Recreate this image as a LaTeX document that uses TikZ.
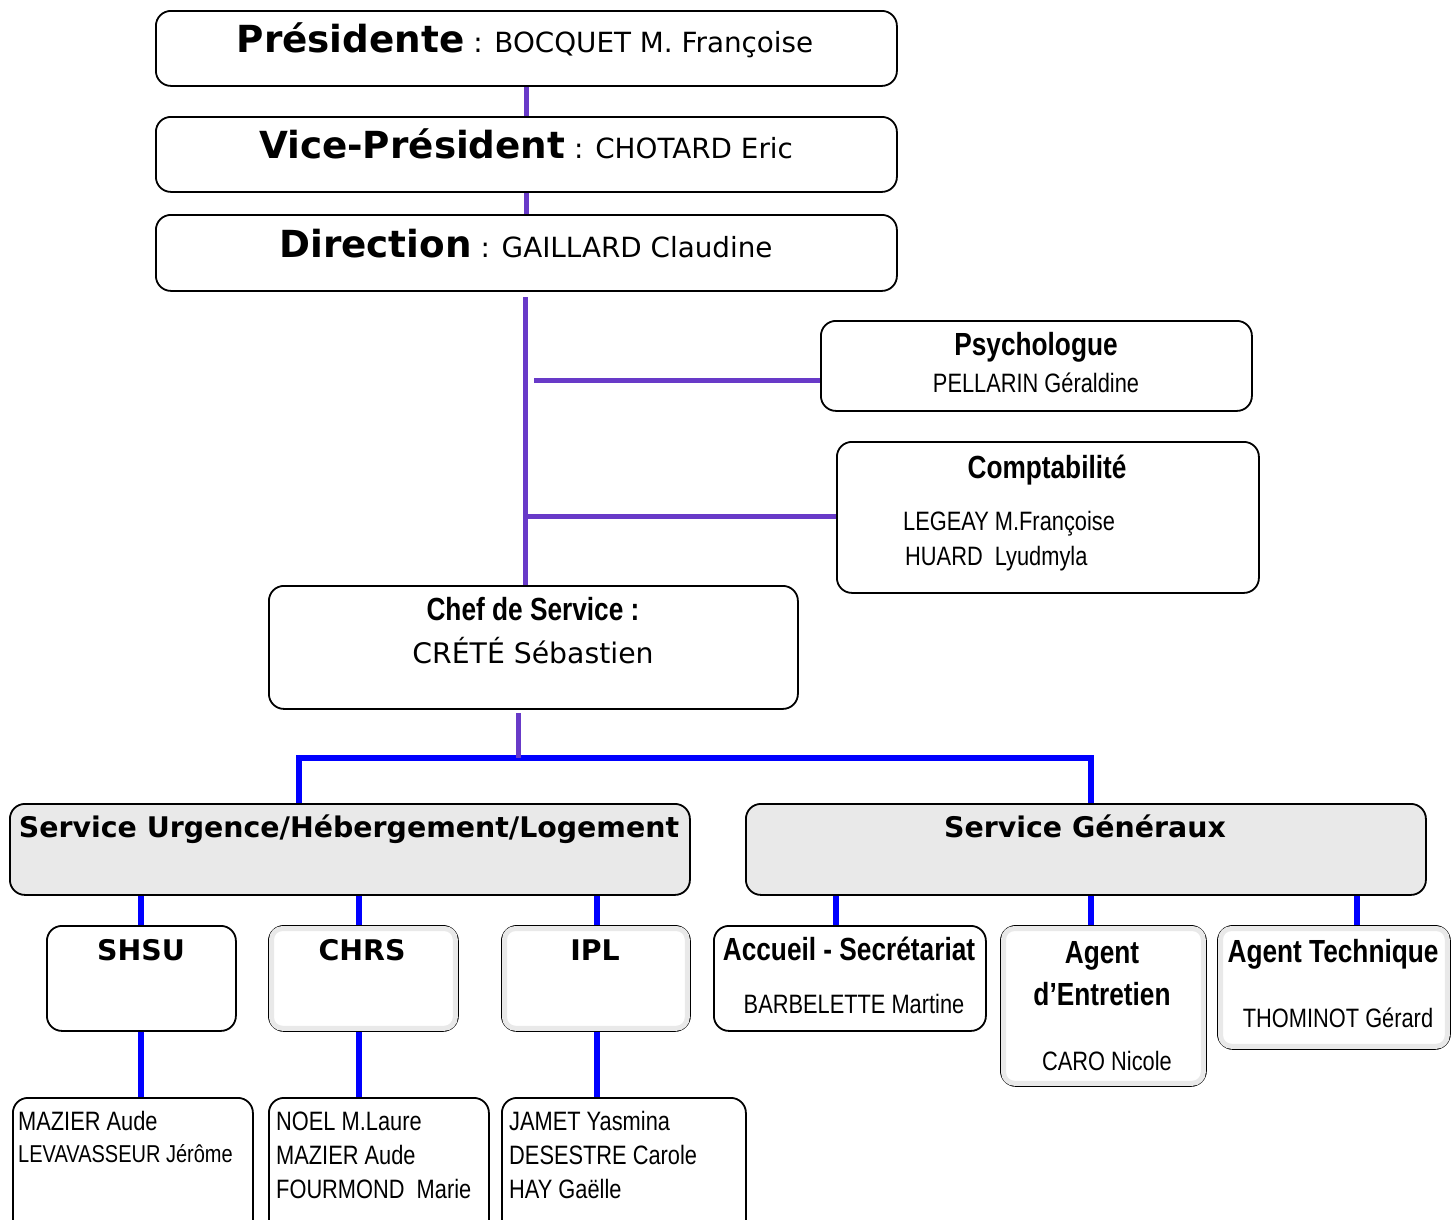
\documentclass[tikz,border=0pt]{standalone}
\usepackage{fontspec}
\newfontfamily\vfont{DejaVu Sans}
\newfontfamily\nfont[FakeStretch=0.82]{Liberation Sans}
\usetikzlibrary{calc}
\definecolor{purp}{RGB}{104,58,200}
\definecolor{blu}{RGB}{0,0,255}
\definecolor{gfill}{RGB}{233,233,233}
\newcommand\myTitle{\vfont\bfseries\fontsize{37.3}{42}\selectfont}
\newcommand\myName{\vfont\fontsize{27.8}{32}\selectfont}
\newcommand\mySub{\vfont\bfseries\fontsize{28.4}{32}\selectfont}
\newcommand\myNB{\nfont\bfseries\fontsize{32}{36}\selectfont}
\newcommand\myNR{\nfont\fontsize{26.6}{30}\selectfont}
\newcommand\myNS{\nfont\fontsize{24.4}{28}\selectfont}
\begin{document}
\begin{tikzpicture}[x=1pt,y=-1pt,
  box/.style={draw=black, line width=1.8pt, rounded corners=15pt, fill=white, anchor=north west, inner sep=0pt},
  gbox/.style={box, fill=gfill},
  pline/.style={draw=purp, line width=5pt},
  bline/.style={draw=blu, line width=5.5pt},
  lab/.style={anchor=base, inner sep=0pt},
  labw/.style={anchor=base west, inner sep=0pt},
  edge/.style={draw=gray!17, line width=5pt, rounded corners=11pt},
]
\useasboundingbox (0,0) rectangle (1454,1219);
\fill[white] (0,0) rectangle (1454,1219);

% boxes
\node[box, minimum width=741pt, minimum height=75pt] (pres) at (155,10) {};
\node[box, minimum width=741pt, minimum height=75pt] (vp) at (155,116) {};
\node[box, minimum width=741pt, minimum height=76pt] (dir) at (155,214) {};
\node[box, minimum width=431pt, minimum height=90pt] (psy) at (820,320) {};
\node[box, minimum width=422pt, minimum height=151pt] (compt) at (836,441) {};
\node[box, minimum width=529pt, minimum height=123pt] (chef) at (268,585) {};
\node[gbox, minimum width=680pt, minimum height=91pt] (suh) at (9,803) {};
\node[gbox, minimum width=680pt, minimum height=91pt] (sg) at (745,803) {};
\node[box, minimum width=189pt, minimum height=105pt] (shsu) at (46,925) {};
\node[box, minimum width=189pt, minimum height=105pt] (chrs) at (268,925) {};
\node[box, minimum width=188pt, minimum height=105pt] (ipl) at (501,925) {};
\node[box, minimum width=272pt, minimum height=105pt] (acc) at (713,925) {};
\node[box, minimum width=205pt, minimum height=160pt] (ent) at (1000,925) {};
\node[box, minimum width=232pt, minimum height=123pt] (tech) at (1217,925) {};
\node[box, minimum width=240pt, minimum height=150pt] (b1) at (12,1097) {};
\node[box, minimum width=220pt, minimum height=150pt] (b2) at (268,1097) {};
\node[box, minimum width=244pt, minimum height=150pt] (b3) at (501,1097) {};

% light grey inner edges
\foreach \b in {chrs,ipl,ent,tech}{
  \draw[edge] ([shift={(3.5pt,-3.5pt)}]\b.north west) rectangle ([shift={(-3.5pt,3.5pt)}]\b.south east);
}

% connectors
\draw[pline] (pres.south) -- (vp.north);
\draw[pline] (vp.south) -- (dir.north);
\coordinate (j0) at (525,297);
\draw[pline] (j0) -- (j0 |- chef.north);
\coordinate (psyL) at (534,380);
\draw[pline] (psyL) -- (psyL -| psy.west);
\coordinate (compL) at (525,516);
\draw[pline] (compL) -- (compL -| compt.west);

\coordinate (bl) at (299,758);
\coordinate (br) at (1091,758);
\draw[bline] (bl |- suh.north) -- (bl) -- (br) -- (br |- sg.north);
\coordinate (j1) at (518,713);
\draw[pline] (j1) -- (j1 |- bl);

\coordinate (cS) at (141,0);
\coordinate (cC) at (359,0);
\coordinate (cI) at (597,0);
\coordinate (cA) at (836,0);
\coordinate (cE) at (1091,0);
\coordinate (cT) at (1357,0);
\draw[bline] (cS |- suh.south) -- (cS |- shsu.north);
\draw[bline] (cC |- suh.south) -- (cC |- chrs.north);
\draw[bline] (cI |- suh.south) -- (cI |- ipl.north);
\draw[bline] (cA |- sg.south) -- (cA |- acc.north);
\draw[bline] (cE |- sg.south) -- (cE |- ent.north);
\draw[bline] (cT |- sg.south) -- (cT |- tech.north);
\draw[bline] (cS |- shsu.south) -- (cS |- b1.north);
\draw[bline] (cC |- chrs.south) -- (cC |- b2.north);
\draw[bline] (cI |- ipl.south) -- (cI |- b3.north);

% texts
\node[lab] (presT) at (525,52) {{\myTitle Présidente}{\myName{} : BOCQUET M. Françoise}};
\node[lab] (vpT) at (526,158) {{\myTitle Vice-Président}{\myName{} : CHOTARD Eric}};
\node[lab] (dirT) at (526,257) {{\myTitle Direction}{\myName{} : GAILLARD Claudine}};

\node[lab] (psyT) at (1036,355) {\myNB Psychologue};
\node[lab] (psyN) at (1036,392) {\myNR PELLARIN Géraldine};

\node[lab] (comT) at (1047,478) {\myNB Comptabilité};
\node[labw] (comN1) at (903,530) {\myNR LEGEAY M.Françoise};
\node[labw] (comN2) at (905,565) {\myNR HUARD\ \ Lyudmyla};

\node[lab] (chefT) at (533,620) {\myNB Chef de Service :};
\node[lab] (chefN) at (533,663) {\vfont\fontsize{28.3}{32}\selectfont CRÉTÉ Sébastien};

\node[lab] (suhT) at (349,837) {\mySub Service Urgence/Hébergement/Logement};
\node[lab] (sgT) at (1085,837) {\mySub Service Généraux};

\node[lab] (shsuT) at (141,960) {\mySub SHSU};
\node[lab] (chrsT) at (362,960) {\mySub CHRS};
\node[lab] (iplT) at (595,960) {\mySub IPL};

\node[lab] (accT) at (849,960) {\myNB Accueil - Secrétariat};
\node[lab] (accN) at (854,1013) {\myNR BARBELETTE Martine};
\node[lab] (entT1) at (1102,963) {\myNB Agent};
\node[lab] (entT2) at (1102,1005) {\myNB d’Entretien};
\node[lab] (entN) at (1107,1070) {\myNR CARO Nicole};
\node[lab] (techT) at (1333,962) {\myNB Agent Technique};
\node[lab] (techN) at (1338,1027) {\myNR THOMINOT Gérard};

\node[labw] (b1a) at (18,1130) {\myNR MAZIER Aude};
\node[labw] (b1b) at (18,1162) {\myNS LEVAVASSEUR Jérôme};
\node[labw] (b2a) at (276,1130) {\myNR NOEL M.Laure};
\node[labw] (b2b) at (276,1164) {\myNR MAZIER Aude};
\node[labw] (b2c) at (276,1198) {\myNR FOURMOND\ \ Marie};
\node[labw] (b3a) at (509,1130) {\myNR JAMET Yasmina};
\node[labw] (b3b) at (509,1164) {\myNR DESESTRE Carole};
\node[labw] (b3c) at (509,1198) {\myNR HAY Gaëlle};
\end{tikzpicture}
\end{document}
